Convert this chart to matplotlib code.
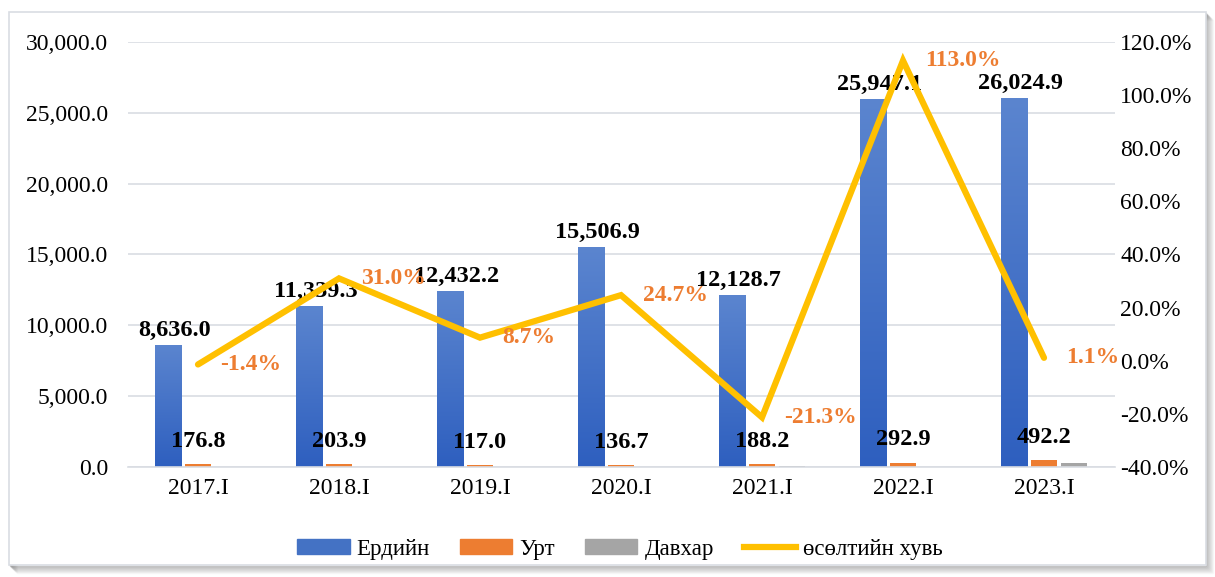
import matplotlib
matplotlib.use("Agg")
import matplotlib.pyplot as plt
import numpy as np
from matplotlib.patches import Rectangle
from matplotlib.lines import Line2D
from matplotlib.ticker import FuncFormatter, MultipleLocator
from matplotlib.colors import LinearSegmentedColormap

categories = ["2017.I", "2018.I", "2019.I", "2020.I", "2021.I", "2022.I", "2023.I"]
erdiin = [8636.0, 11339.3, 12432.2, 15506.9, 12128.7, 25947.1, 26024.9]
urt = [176.8, 203.9, 117.0, 136.7, 188.2, 292.9, 492.2]
davkhar = [0, 0, 0, 0, 90, 0, 280]
growth = [-1.4, 31.0, 8.7, 24.7, -21.3, 113.0, 1.1]

plt.rcParams['font.family'] = ['Liberation Serif', 'DejaVu Serif']

BLUE = "#4472C4"
ORANGE = "#ED7D31"
GRAY = "#A5A5A5"
GOLD = "#FFC000"

fig = plt.figure(figsize=(12.15, 5.77), dpi=100)
fig.patch.set_facecolor("white")

# frame with shadow
for i, a in enumerate(np.linspace(0.35, 0.04, 8)):
    fig.patches.append(Rectangle((10/1215 + i/1215, 12/577 - (i+1)/577), 1196/1215, 553/577,
                                 transform=fig.transFigure, facecolor="none",
                                 edgecolor=(0.4, 0.4, 0.4, a), lw=1.0, zorder=0))
fig.patches.append(Rectangle((9/1215, 12/577), 1197/1215, 553/577, transform=fig.transFigure,
                             facecolor="white", edgecolor="#D9DDE3", lw=1.2, zorder=0.5))

ax = fig.add_axes([127.5/1215, 1 - 467/577, 987/1215, 425/577])
ax.set_zorder(1)
x = np.arange(len(categories))
w = 0.19
off = 0.213
bars = ax.bar(x - off, erdiin, w, color=BLUE, zorder=2)
ax.bar(x, urt, w, color=ORANGE, zorder=2)
ax.bar(x + off, davkhar, w, color=GRAY, zorder=2)

# gradient fill for the main bars
cmap = LinearSegmentedColormap.from_list("bg", ["#2E5FBF", "#5B85CF"])
grad = np.linspace(0, 1, 256).reshape(-1, 1)
for b in bars:
    bx, by = b.get_x(), b.get_y()
    bw, bh = b.get_width(), b.get_height()
    im = ax.imshow(grad, cmap=cmap, origin="lower", aspect="auto",
                   extent=[bx, bx + bw, by, by + bh], zorder=2.1)
    im.set_clip_path(b)

ax.set_xlim(-0.5, len(categories) - 0.5)
ax.set_ylim(0, 30000)
ax.yaxis.set_major_locator(MultipleLocator(5000))
ax.yaxis.set_major_formatter(FuncFormatter(lambda v, p: f"{v:,.1f}"))
ax.set_xticks(x)
ax.set_xticklabels(categories)
ax.tick_params(axis="both", length=0, labelsize=17, colors="black")
ax.tick_params(axis="y", pad=14)
ax.tick_params(axis="x", pad=8)
ax.grid(axis="y", color="#D9DDE3", lw=1.2, zorder=0)
for s in ["top", "right", "left"]:
    ax.spines[s].set_visible(False)
ax.spines["bottom"].set_color("#D9DDE3")
ax.spines["bottom"].set_linewidth(1.2)
ax.set_axisbelow(True)

for xi, v in zip(x, erdiin):
    ax.annotate(f"{v:,.1f}", (xi - off, v), xytext=(5, 3), textcoords="offset points",
                ha="center", va="bottom", fontsize=17.5, fontweight="bold", zorder=3)
for xi, v in zip(x, urt):
    ax.annotate(f"{v:,.1f}", (xi, v), xytext=(0, 9), textcoords="offset points",
                ha="center", va="bottom", fontsize=17.5, fontweight="bold", zorder=3)

ax2 = ax.twinx()
ax2.set_zorder(2)
ax2.patch.set_visible(False)
ax2.plot(x, growth, color=GOLD, lw=4.5, zorder=4, solid_capstyle="round", solid_joinstyle="miter")
ax2.set_ylim(-40, 120)
ax2.yaxis.set_major_locator(MultipleLocator(20))
ax2.yaxis.set_major_formatter(FuncFormatter(lambda v, p: f"{v:.1f}%"))
ax2.tick_params(axis="y", length=0, labelsize=17, pad=4)
for s in ax2.spines.values():
    s.set_visible(False)
for xi, g in zip(x, growth):
    ax2.annotate(f"{g:.1f}%", (xi, g), xytext=(16, 0), textcoords="offset points",
                 ha="left", va="center", fontsize=17, fontweight="bold", color=ORANGE, zorder=5)

handles = [Rectangle((0, 0), 1, 1, color=BLUE), Rectangle((0, 0), 1, 1, color=ORANGE),
           Rectangle((0, 0), 1, 1, color=GRAY), Line2D([0], [0], color=GOLD, lw=4.5)]
labels = ["Ердийн", "Урт", "Давхар", "өсөлтийн хувь"]
fig.legend(handles, labels, loc="center", bbox_to_anchor=(620/1215, 1 - 549/577), ncol=4,
           frameon=False, fontsize=16.5, handlelength=2.3, handleheight=0.6,
           columnspacing=1.3, handletextpad=0.3)

fig.savefig("out.png", dpi=100)
